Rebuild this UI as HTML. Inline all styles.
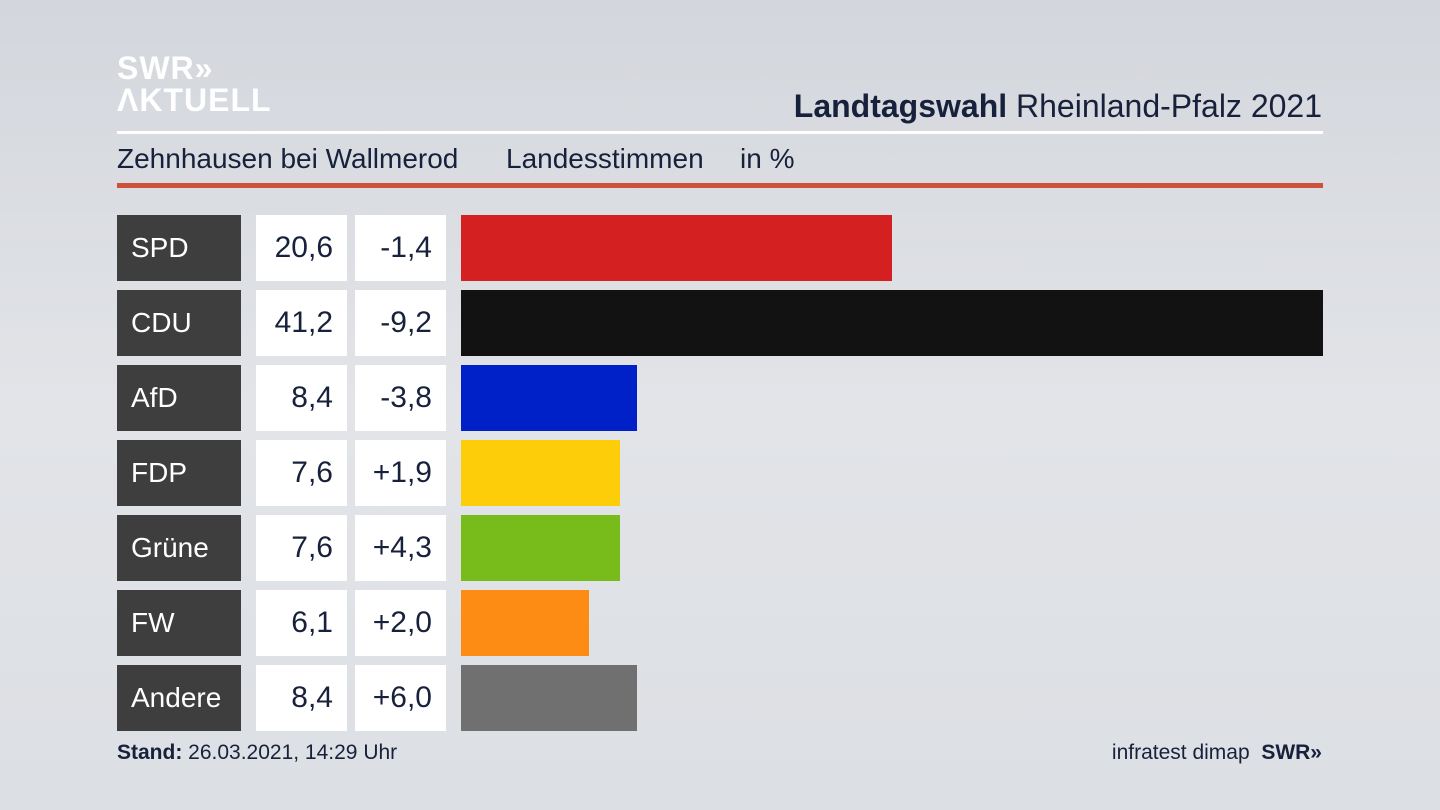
<!DOCTYPE html>
<html><head><meta charset="utf-8">
<style>
body{margin:0;width:1440px;height:810px;overflow:hidden;font-family:"Liberation Sans","DejaVu Sans",sans-serif;background:linear-gradient(180deg,#d3d6dc 0%,#e2e4e8 50%,#dcdfe3 100%);position:relative;color:#18213b}
.a{position:absolute}
.lbl{background:#3e3e3e;color:#fff;font-size:28px;line-height:66px;padding-left:14px;box-sizing:border-box}
.box{background:#fff;font-size:30px;line-height:66px;text-align:right;padding-right:14px;box-sizing:border-box}
.sub{position:absolute;top:143px;font-size:28px}
</style></head><body>
<div class="a" style="left:117px;top:52px;color:#fff;font-weight:bold;font-size:32px;line-height:32px;letter-spacing:1px">SWR»<br>ΛKTUELL</div>
<div class="a" style="right:118px;top:88px;font-size:32px"><b>Landtagswahl</b> Rheinland-Pfalz 2021</div>
<div class="a" style="left:117px;top:131px;width:1206px;height:3px;background:#fff"></div>
<span class="sub" style="left:117px">Zehnhausen bei Wallmerod</span>
<span class="sub" style="left:506px">Landesstimmen</span>
<span class="sub" style="left:740px">in %</span>
<div class="a" style="left:117px;top:183px;width:1206px;height:5px;background:#cc5239"></div>
<div id="rows"></div>
<div class="a" style="left:117px;top:741px;font-size:21px"><b>Stand:</b> 26.03.2021, 14:29 Uhr</div>
<div class="a" style="right:118px;top:741px;font-size:21px">infratest dimap&nbsp;&nbsp;<b>SWR»</b></div>
<script>
const parties=["SPD","CDU","AfD","FDP","Grüne","FW","Andere"];
const shares=[20.6,41.2,8.4,7.6,7.6,6.1,8.4];
const changes=["-1,4","-9,2","-3,8","+1,9","+4,3","+2,0","+6,0"];
const colors=["#d42020","#121212","#0021c8","#fdcd0a","#78bc1c","#fd8c14","#707070"];
const x=v=>v*(862/41.2);
const root=document.getElementById('rows');
parties.forEach((p,i)=>{
  const y=215+i*75;
  const mk=(cls,l,w,txt,name)=>{const d=document.createElement('div');d.className='a '+cls;d.style.left=l+'px';d.style.top=y+'px';d.style.width=w+'px';d.style.height='66px';d.textContent=txt;
  
  
  root.appendChild(d);return d;};
  mk('lbl',117,124,p,'party-label');
  mk('box',256,91,shares[i].toFixed(1).replace('.',','),'share-value');
  mk('box',355,91,changes[i],'change-value');
  const b=mk('',461,x(shares[i]),'','bar-'+p.toLowerCase());
  b.style.background=colors[i];
});
</script>
</body></html>
